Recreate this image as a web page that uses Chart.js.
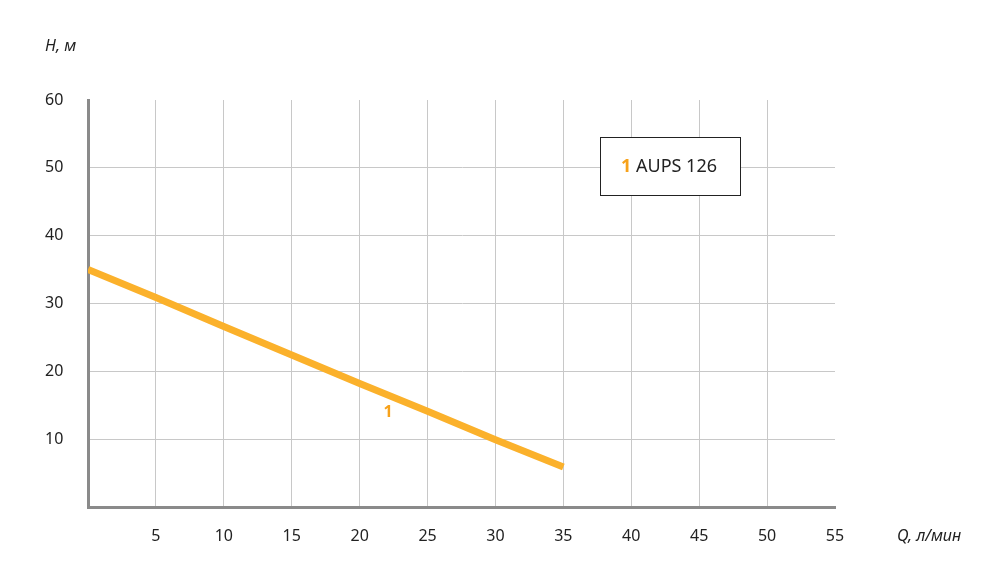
<!DOCTYPE html>
<html>
<head>
<meta charset="utf-8">
<script src="https://cdn.jsdelivr.net/npm/chart.js@4"></script>
<style>
  html, body { margin: 0; padding: 0; background: #fff; }
  #wrap { width: 1000px; height: 583px; position: relative; }
</style>
</head>
<body>
<div id="wrap"><canvas id="pumpChart"></canvas></div>
<script>
const ctx = document.getElementById("pumpChart").getContext("2d");

// подача, л/мин
const flow = [0, 5, 10, 15, 20, 25, 30, 35];
// напор, м
const head = [35, 30.9, 26.6, 22.4, 18.2, 14.1, 9.9, 5.9];

const seriesName = "AUPS 126";
const seriesNo = "1";
const yTitle = "H, м";
const xTitle = "Q, л/мин";

const ORANGE_LINE = "#fbb12b";
const ORANGE_TEXT = "#f7a21b";
const FONT = "'Noto Sans', 'Open Sans', sans-serif";

const points = flow.map((q, i) => ({ x: q, y: head[i] }));

const gridColor = (max) => (c) =>
  c.tick.value === 0 || c.tick.value === max ? "rgba(0,0,0,0)" : "#c8c8c8";

const extras = {
  id: "extras",
  afterDraw(chart) {
    const c = chart.ctx;
    const xs = chart.scales.x;
    const ys = chart.scales.y;
    c.save();
    c.textBaseline = "middle";

    // подписи осей
    c.fillStyle = "#222";
    c.font = "italic 16px " + FONT;
    c.textAlign = "left";
    c.fillText(yTitle, 45, 46);
    c.fillText(xTitle, 897, 536);

    // номер кривой
    c.fillStyle = ORANGE_TEXT;
    c.font = "bold 16px " + FONT;
    c.textAlign = "center";
    c.fillText(seriesNo, xs.getPixelForValue(22.1), ys.getPixelForValue(14));

    // легенда
    c.fillStyle = "#fff";
    c.fillRect(600.5, 137.5, 140, 58);
    c.strokeStyle = "#222";
    c.lineWidth = 1;
    c.strokeRect(600.5, 137.5, 140, 58);
    c.textAlign = "left";
    c.font = "bold 18px " + FONT;
    c.fillStyle = ORANGE_TEXT;
    c.fillText(seriesNo, 621, 167);
    const w = c.measureText(seriesNo + " ").width;
    c.font = "18px " + FONT;
    c.fillStyle = "#222";
    c.fillText(seriesName, 621 + w, 167);
    c.restore();
  },
};

const config = {
  type: "line",
  data: {
    datasets: [
      {
        label: seriesName,
        data: points,
        borderColor: ORANGE_LINE,
        backgroundColor: ORANGE_LINE,
        borderWidth: 7,
        borderCapStyle: "butt",
        pointRadius: 0,
        fill: false,
        tension: 0,
      },
    ],
  },
  options: {
    responsive: true,
    maintainAspectRatio: false,
    animation: false,
    layout: { padding: { left: 45, top: 100, right: 165, bottom: 0 } },
    plugins: {
      legend: { display: false },
      tooltip: { enabled: false },
    },
    scales: {
      x: {
        type: "linear",
        min: 0,
        max: 55,
        afterFit: (s) => { s.height = 76; },
        border: { color: "#8a8a8a", width: 3 },
        grid: { color: gridColor(55), lineWidth: 1, drawTicks: false },
        ticks: {
          stepSize: 5,
          padding: 20,
          color: "#222",
          font: { family: FONT, size: 16 },
          callback: (v) => (v === 0 ? "" : v),
        },
      },
      y: {
        min: 0,
        max: 60,
        afterFit: (s) => { s.width = 43; },
        border: { color: "#8a8a8a", width: 3 },
        grid: { color: gridColor(60), lineWidth: 1, drawTicks: false },
        ticks: {
          stepSize: 10,
          crossAlign: "far",
          color: "#222",
          font: { family: FONT, size: 16 },
          callback: (v) => (v === 0 ? "" : v),
        },
      },
    },
  },
  plugins: [extras],
};

const pumpChart = new Chart(ctx, config);
</script>
</body>
</html>
